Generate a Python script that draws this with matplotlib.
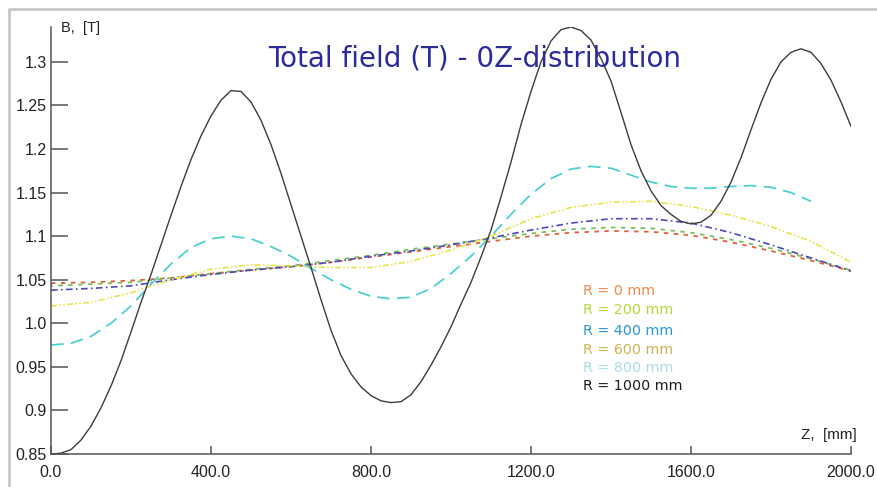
import numpy as np
import matplotlib
matplotlib.use("Agg")
import matplotlib.pyplot as plt
from matplotlib.lines import Line2D

# ---- data ----
z_black = [0, 25, 50, 75, 100, 125, 150, 175, 200, 225, 250, 275, 300, 325, 350, 375,
           400, 425, 450, 475, 500, 525, 550, 575, 600, 625, 650, 675, 700, 725, 750,
           775, 800, 825, 850, 875, 900, 925, 950, 975, 1000, 1025, 1050, 1075, 1100,
           1125, 1150, 1175, 1200, 1225, 1250, 1275, 1300, 1325, 1350, 1375, 1400, 1425,
           1450, 1475, 1500, 1525, 1550, 1575, 1600, 1625, 1650, 1675, 1700, 1725, 1750,
           1775, 1800, 1825, 1850, 1875, 1900, 1925, 1950, 1975, 2000]
b_1000 = [0.850, 0.851, 0.855, 0.866, 0.882, 0.903, 0.928, 0.957, 0.990, 1.024, 1.056,
          1.090, 1.124, 1.157, 1.188, 1.215, 1.238, 1.256, 1.267, 1.266, 1.254, 1.233,
          1.205, 1.172, 1.136, 1.100, 1.064, 1.027, 0.992, 0.963, 0.942, 0.927, 0.917,
          0.911, 0.909, 0.910, 0.918, 0.933, 0.952, 0.973, 0.996, 1.022, 1.047, 1.076,
          1.107, 1.145, 1.185, 1.228, 1.266, 1.300, 1.324, 1.337, 1.340, 1.336, 1.325,
          1.304, 1.278, 1.242, 1.205, 1.175, 1.152, 1.135, 1.125, 1.117, 1.114, 1.116,
          1.124, 1.140, 1.162, 1.190, 1.222, 1.253, 1.280, 1.300, 1.311, 1.315, 1.311,
          1.298, 1.279, 1.254, 1.226]

z_800 = [0, 50, 100, 150, 200, 250, 300, 350, 400, 450, 500, 550, 600, 650, 700, 750,
         800, 850, 900, 950, 1000, 1050, 1100, 1150, 1200, 1250, 1300, 1350, 1400, 1450,
         1500, 1550, 1600, 1650, 1700, 1750, 1800, 1850, 1900]
b_800 = [0.975, 0.977, 0.985, 1.000, 1.020, 1.045, 1.068, 1.087, 1.097, 1.100, 1.097,
         1.088, 1.077, 1.063, 1.050, 1.039, 1.031, 1.028, 1.030, 1.040, 1.057, 1.077,
         1.100, 1.125, 1.148, 1.166, 1.177, 1.180, 1.178, 1.170, 1.162, 1.157, 1.155,
         1.155, 1.157, 1.158, 1.156, 1.150, 1.140]

z_std = [0, 100, 200, 300, 400, 500, 600, 700, 800, 900, 1000, 1100, 1200, 1300, 1400,
         1500, 1600, 1700, 1800, 1900, 2000]
b_600 = [1.020, 1.024, 1.035, 1.050, 1.062, 1.067, 1.066, 1.064, 1.064, 1.071, 1.084,
         1.100, 1.120, 1.133, 1.139, 1.140, 1.134, 1.124, 1.111, 1.094, 1.070]
b_400 = [1.038, 1.040, 1.043, 1.050, 1.056, 1.061, 1.065, 1.070, 1.077, 1.083, 1.090,
         1.098, 1.107, 1.115, 1.120, 1.120, 1.115, 1.104, 1.090, 1.075, 1.060]
b_200 = [1.043, 1.045, 1.047, 1.052, 1.057, 1.062, 1.066, 1.072, 1.078, 1.085, 1.091,
         1.097, 1.103, 1.108, 1.110, 1.109, 1.104, 1.096, 1.086, 1.074, 1.061]
b_0 = [1.046, 1.047, 1.049, 1.052, 1.057, 1.061, 1.065, 1.070, 1.076, 1.082, 1.088,
       1.094, 1.100, 1.104, 1.106, 1.105, 1.101, 1.093, 1.083, 1.072, 1.060]

legend_labels = ["R = 0 mm", "R = 200 mm", "R = 400 mm", "R = 600 mm", "R = 800 mm", "R = 1000 mm"]
legend_colors = ["#ef8a4a", "#b5d93a", "#2a98d4", "#cdb454", "#aedbe9", "#1e1e1e"]

y_ticks = [0.85, 0.9, 0.95, 1.0, 1.05, 1.1, 1.15, 1.2, 1.25, 1.3]
y_ticklabels = ["0.85", "0.9", "0.95", "1.0", "1.05", "1.1", "1.15", "1.2", "1.25", "1.3"]
x_ticks = [0, 400, 800, 1200, 1600, 2000]
x_ticklabels = ["0.0", "400.0", "800.0", "1200.0", "1600.0", "2000.0"]

title = "Total field (T) - 0Z-distribution"

# ---- figure ----
W, H = 877, 487
fig = plt.figure(figsize=(W / 100, H / 100), dpi=100)
ax = fig.add_axes([51 / W, 1 - 454 / H, 800 / W, (454 - 27) / H])
ax.set_xlim(0, 2000)
ax.set_ylim(0.85, 1.34)

tf = "Liberation Sans"

ax.plot(z_std, b_0, color="#e0603c", lw=1.3, linestyle=(0, (2.5, 3.0)), dash_capstyle="butt")
ax.plot(z_std, b_200, color="#7cbf5a", lw=1.3, linestyle=(1.5, (2.5, 3.0)), dash_capstyle="butt")
ax.plot(z_std, b_400, color="#4a4ab8", lw=1.2, linestyle=(0, (4, 2, 1, 2)))
ax.plot(z_std, b_600, color="#e6e23c", lw=1.1, linestyle=(0, (4, 1.5, 1, 1.5, 1, 1.5)))
ax.plot(z_800, b_800, color="#4fcfd0", lw=1.3, linestyle=(0, (7, 4)))
ax.plot(z_black, b_1000, color="#3c3c3c", lw=1.0)

for s in ["top", "right"]:
    ax.spines[s].set_visible(False)
for s in ["left", "bottom"]:
    ax.spines[s].set_color("#555555")
    ax.spines[s].set_linewidth(1.1)

ax.set_yticks(y_ticks)
ax.set_yticklabels(y_ticklabels, fontfamily=tf, fontsize=11.5, color="#222222")
ax.set_xticks(x_ticks)
ax.set_xticklabels(x_ticklabels, fontfamily=tf, fontsize=11.5, color="#222222")
ax.tick_params(axis="y", direction="in", length=12, width=1.1, color="#555555", pad=3)
ax.tick_params(axis="x", direction="in", length=6, width=1.1, color="#555555", pad=8)

fig.text(61 / W, 1 - 28 / H, "B,  [T]", fontfamily=tf, fontsize=10.5, color="#222222",
         ha="left", va="center")
fig.text(857 / W, 1 - 435 / H, "Z,  [mm]", fontfamily=tf, fontsize=11, color="#222222",
         ha="right", va="center")

fig.text(268 / W, 1 - 58 / H, title, fontfamily="DejaVu Sans", fontsize=20,
         color="#2b2b9c", ha="left", va="center")

ys = [291, 310.5, 331, 350, 368.5, 386.5]
for lab, col, yy in zip(legend_labels, legend_colors, ys):
    fig.text(583 / W, 1 - yy / H, lab, fontfamily="DejaVu Sans", fontsize=10.3,
             color=col, ha="left", va="center")

# slide frame (left and top edges)
fig.add_artist(Line2D([9 / W, 9 / W, 1], [0, 1 - 8.5 / H, 1 - 8.5 / H],
                      transform=fig.transFigure, color="#c8c8c8", lw=2))

fig.savefig("out.png", dpi=100, facecolor="white")
